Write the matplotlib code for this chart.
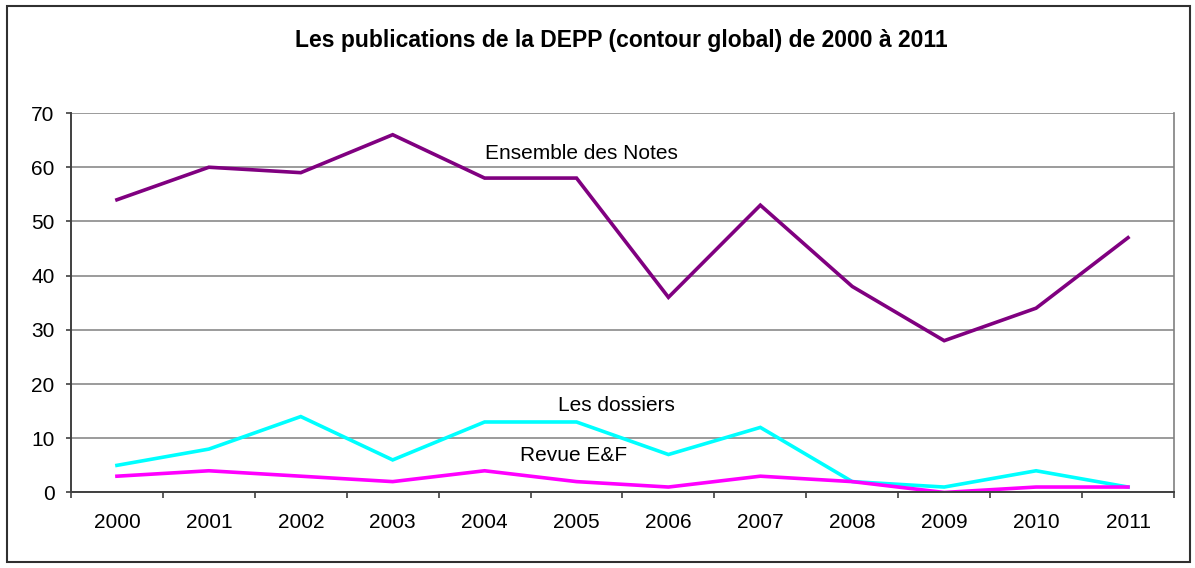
import numpy as np
import matplotlib.pyplot as plt
from matplotlib.patches import Rectangle

plt.rcParams['font.family'] = ['Liberation Sans', 'DejaVu Sans']

years = ['2000', '2001', '2002', '2003', '2004', '2005',
         '2006', '2007', '2008', '2009', '2010', '2011']
notes = [54, 60, 59, 66, 58, 58, 36, 53, 38, 28, 34, 47]
dossiers = [5, 8, 14, 6, 13, 13, 7, 12, 2, 1, 4, 1]
revue = [3, 4, 3, 2, 4, 2, 1, 3, 2, 0, 1, 1]

fig = plt.figure(figsize=(11.95, 5.68), dpi=100)
ax = fig.add_axes([0.0594, 0.133, 0.9230, 0.668])

x = np.arange(len(years))
ax.plot(x, notes, color='#800080', lw=2.6, solid_joinstyle='miter')
ax.plot(x, dossiers, color='#00FFFF', lw=2.6, solid_joinstyle='miter')
ax.plot(x, revue, color='#FF00FF', lw=2.6, solid_joinstyle='miter')

ax.set_xlim(-0.5, len(years) - 0.5)
ax.set_ylim(0, 70)
ax.set_yticks(range(0, 71, 10))
ax.yaxis.grid(True, color='#808080', lw=1.1)
ax.set_axisbelow(True)

# ticks between categories, labels centred
ax.set_xticks(np.arange(-0.5, len(years), 1))
ax.set_xticklabels([])
ax.set_xticks(x, minor=True)
ax.set_xticklabels(years, minor=True)
ax.tick_params(axis='x', which='minor', length=0, pad=15, labelsize=15)
ax.tick_params(axis='x', which='major', length=4.3, width=1.2, color='#404040')
ax.tick_params(axis='y', length=3.8, width=1.2, color='#404040', labelsize=15, pad=8)

for s in ['left', 'bottom']:
    ax.spines[s].set_color('#404040')
    ax.spines[s].set_linewidth(1.4)
ax.spines['top'].set_visible(False)
ax.spines['right'].set_color('#808080')
ax.spines['right'].set_linewidth(1.2)

ax.text(5.05, 62.6, 'Ensemble des Notes', ha='center', va='center', fontsize=15)
ax.text(5.43, 16.1, 'Les dossiers', ha='center', va='center', fontsize=15)
ax.text(4.97, 6.8, 'Revue E&F', ha='center', va='center', fontsize=15)

fig.text(0.52, 0.929, 'Les publications de la DEPP (contour global) de 2000 à 2011',
         ha='center', va='center', fontsize=16.5, fontweight='bold')

fig.patches.append(Rectangle((7 / 1195, 6 / 568), 1183 / 1195, 556 / 568,
                             transform=fig.transFigure, fill=False,
                             edgecolor='#303030', lw=1.5))

fig.savefig('out.png', dpi=100)
